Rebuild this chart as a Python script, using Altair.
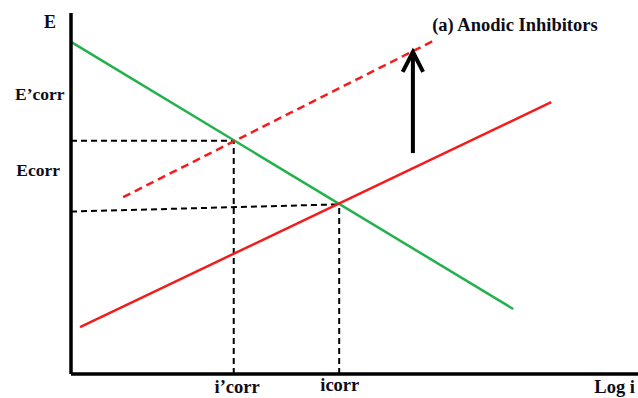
import altair as alt
import pandas as pd

# Evans diagram for an anodic inhibitor (potential E vs. log current density)
# Cathodic branch (green)
cath_x = [0.0, 7.8]
cath_y = [9.2, 1.8]
# Anodic branch without inhibitor (solid red)
anod_x = [0.16, 8.47]
anod_y = [1.30, 7.53]
# Anodic branch with inhibitor (dashed red)
anod_inh_x = [0.92, 6.38]
anod_inh_y = [4.90, 9.22]

# Corrosion points
icorr, ecorr = 4.73, 4.70
icorr_p, ecorr_p = 2.87, 6.46
ecorr_left = 4.50  # left end of the Ecorr guide line

# Shift arrow
arrow_x = 6.03
arrow_y = [6.12, 8.92]
head_x = [5.85, 6.03, 6.21]
head_y = [8.37, 8.92, 8.37]

# Text labels
label_text = ["E", "E\u2019corr", "Ecorr", "i\u2019corr", "icorr", "Log i"]
label_x = [-0.37, -0.55, -0.58, 2.93, 4.74, 9.23]
label_y = [9.72, 7.73, 5.62, -0.37, -0.31, -0.37]
label_size = [18, 17.5, 17.5, 18.5, 18.5, 18.5]
label_align = ["center", "center", "center", "center", "center", "left"]
title_text = "(a) Anodic Inhibitors"
title_x, title_y = 6.37, 9.68

X = alt.Scale(domain=[0, 10])
Y = alt.Scale(domain=[0, 10])


def seg_df(xs, ys, group="a"):
    return pd.DataFrame({"x": xs, "y": ys, "o": list(range(len(xs))), "g": group})


def line_layer(df, color, width, dash=None):
    kw = dict(color=color, strokeWidth=width, clip=False, strokeCap="butt")
    if dash:
        kw["strokeDash"] = dash
    return alt.Chart(df).mark_line(**kw).encode(
        x=alt.X("x:Q", scale=X, axis=None),
        y=alt.Y("y:Q", scale=Y, axis=None),
        order="o:Q",
        detail="g:N",
    )


# Axes drawn as thick black lines
axes_df = pd.concat([
    seg_df([0, 0], [0, 10], "yaxis"),
    seg_df([0, 10], [0, 0], "xaxis"),
])
axes = line_layer(axes_df, "black", 3.5)

cathodic = line_layer(seg_df(cath_x, cath_y), "#22b14c", 2.5)
anodic = line_layer(seg_df(anod_x, anod_y), "#f21c1c", 2.5)
anodic_inh = line_layer(seg_df(anod_inh_x, anod_inh_y), "#f21c1c", 2.5, [8, 5])

guides_df = pd.concat([
    seg_df([0, icorr_p], [ecorr_p, ecorr_p], "h1"),
    seg_df([icorr_p, icorr_p], [0, ecorr_p], "v1"),
    seg_df([0, icorr], [ecorr_left, ecorr], "h2"),
    seg_df([icorr, icorr], [0, ecorr], "v2"),
])
guides = line_layer(guides_df, "black", 2, [6, 4])

arrow_df = pd.concat([
    seg_df([arrow_x, arrow_x], arrow_y, "shaft"),
    seg_df(head_x, head_y, "head"),
])
arrow = line_layer(arrow_df, "black", 4)

labels_df = pd.DataFrame({
    "t": label_text, "x": label_x, "y": label_y, "s": label_size, "a": label_align,
})
text_layers = []
for _, row in labels_df.iterrows():
    text_layers.append(
        alt.Chart(pd.DataFrame([row])).mark_text(
            font="Liberation Serif", fontWeight="bold", fontSize=float(row["s"]),
            align=row["a"], baseline="middle", color="#0d0d1a",
        ).encode(
            x=alt.X("x:Q", scale=X, axis=None),
            y=alt.Y("y:Q", scale=Y, axis=None),
            text="t:N",
        )
    )

title_df = pd.DataFrame({"t": [title_text], "x": [title_x], "y": [title_y]})
title = alt.Chart(title_df).mark_text(
    font="Liberation Serif", fontWeight="bold", fontSize=18.5,
    align="left", baseline="middle", color="#0d0d1a",
).encode(
    x=alt.X("x:Q", scale=X, axis=None),
    y=alt.Y("y:Q", scale=Y, axis=None),
    text="t:N",
)

chart = alt.layer(
    guides, cathodic, anodic, anodic_inh, arrow, axes, *text_layers, title
).properties(
    width=567,
    height=361,
    padding={"left": 71, "top": 13, "right": 0, "bottom": 24},
    autosize=alt.AutoSizeParams(type="none"),
    background="white",
).configure_view(stroke=None)

chart.save("out.html", embed_options={"renderer": "svg", "actions": False})
